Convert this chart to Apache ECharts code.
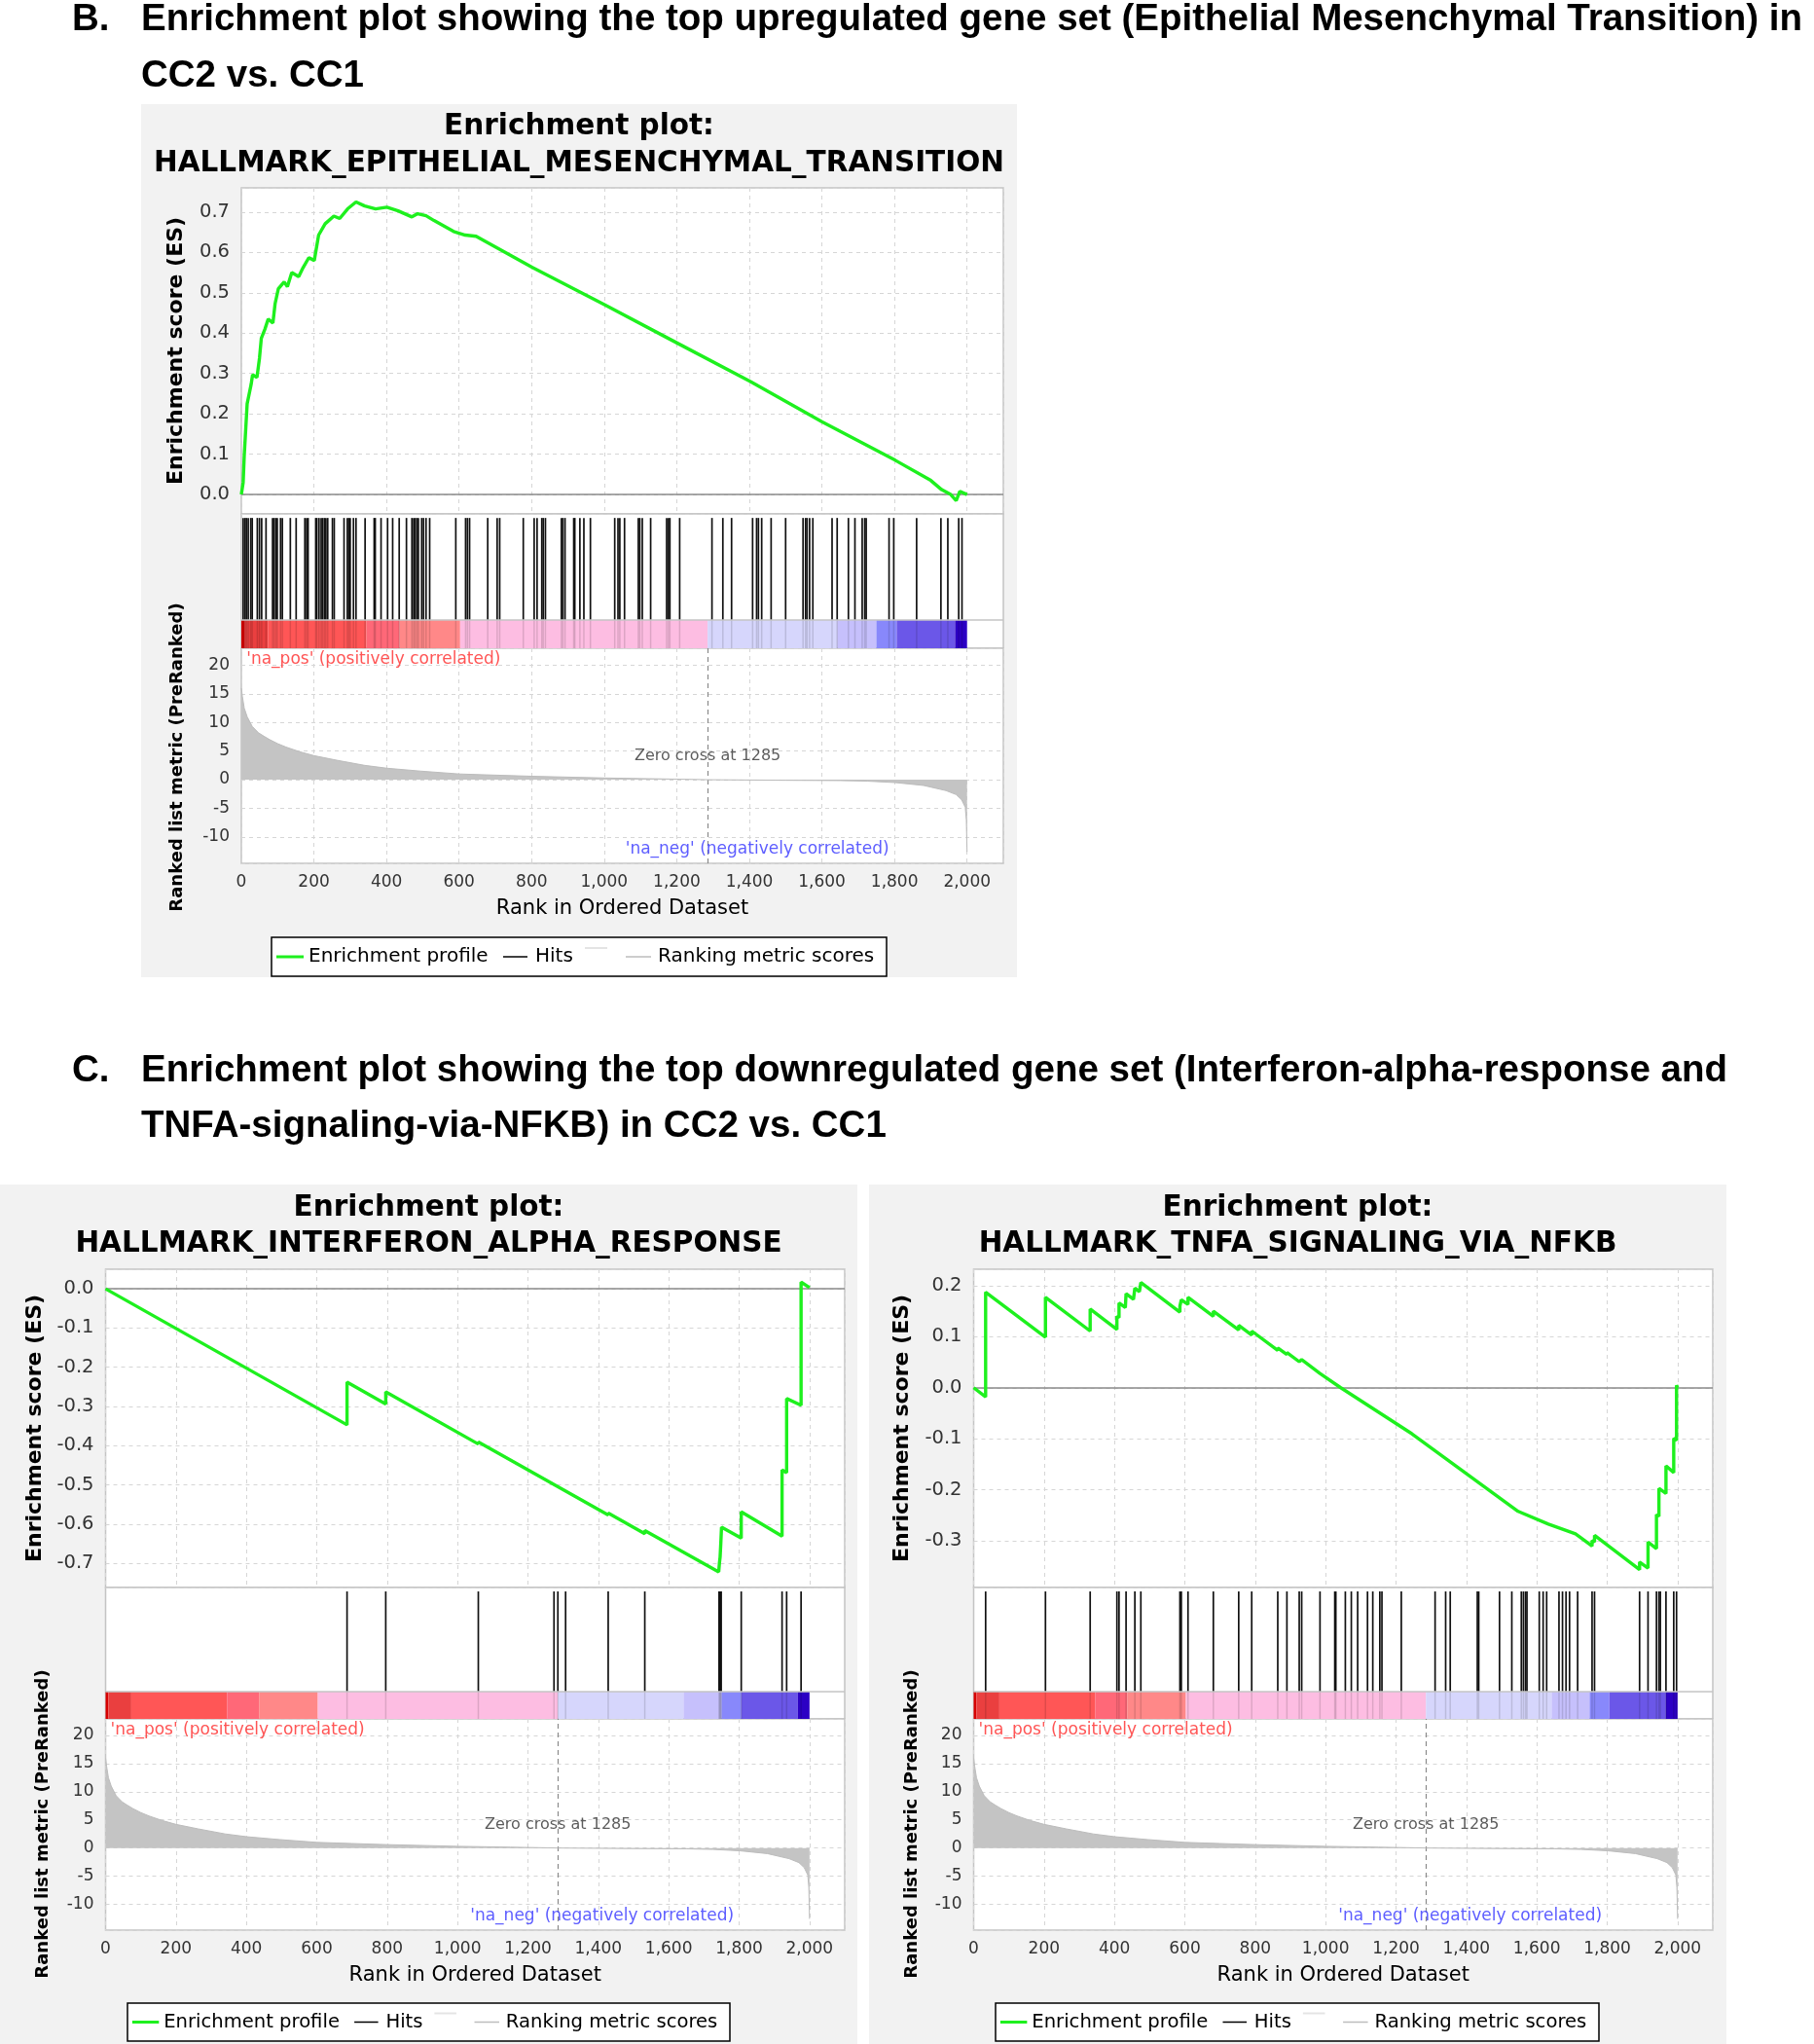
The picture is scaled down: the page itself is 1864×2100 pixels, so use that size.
<!DOCTYPE html>
<html>
<head>
<meta charset="utf-8">
<title>GSEA enrichment plots</title>
<script src="https://cdn.jsdelivr.net/npm/echarts@6/dist/echarts.min.js"></script>
<style>
  html, body { margin: 0; padding: 0; background: #fff; }
  #chart { width: 1864px; height: 2100px; }
</style>
</head>
<body>
<div id="chart"></div>
<script>
// ---- data ----
// ranked list metric (same ranked list in all three plots): [rank, metric]
const metricPoints = [
  [0, 16.0], [3, 14.5], [8, 12.5], [16, 11.0], [30, 9.3], [47, 8.2], [62, 7.6], [78, 7.0],
  [100, 6.3], [123, 5.7], [160, 4.9], [200, 4.2], [263, 3.4], [340, 2.5], [402, 2.0],
  [494, 1.5], [601, 1.0], [700, 0.8], [802, 0.6], [1002, 0.3], [1150, 0.15], [1285, 0],
  [1500, -0.1], [1650, -0.15], [1725, -0.25], [1802, -0.5], [1880, -1.0], [1942, -1.9],
  [1970, -2.6], [1985, -3.5], [1995, -4.8], [1998, -7.0], [2000, -12.6]
]
const zeroCross = 1285

// colour band edges along the ranks
const bandEdges = [0, 8, 73, 345, 436, 603, 1285, 1642, 1750, 1806, 1967, 2000]

// B: epithelial mesenchymal transition
const emtEs = [
  [0, 0], [5, 0.03], [8, 0.097], [16, 0.225], [27, 0.273], [31, 0.297], [43, 0.29], [50, 0.338],
  [55, 0.387], [65, 0.41], [74, 0.435], [87, 0.425], [93, 0.473], [102, 0.51], [118, 0.527],
  [127, 0.515], [139, 0.55], [158, 0.54], [170, 0.562], [186, 0.587], [201, 0.58], [213, 0.643],
  [231, 0.671], [255, 0.69], [271, 0.684], [293, 0.708], [316, 0.725], [340, 0.715], [370, 0.708],
  [401, 0.712], [432, 0.703], [470, 0.688], [486, 0.696], [509, 0.691], [531, 0.679], [585, 0.652],
  [617, 0.643], [647, 0.64], [802, 0.563], [1002, 0.47], [1202, 0.375], [1403, 0.28], [1601, 0.18],
  [1802, 0.085], [1900, 0.035], [1930, 0.012], [1955, 0.0], [1970, -0.015], [1980, 0.008], [2000, 0.0]
]
const emtHits = [
  5, 10, 14, 19, 26, 30, 44, 50, 56, 68, 86, 90, 95, 99, 108, 113, 135, 151, 175, 180, 184,
  205, 208, 214, 220, 224, 229, 233, 238, 251, 256, 283, 292, 296, 300, 309, 316, 341, 366, 369,
  385, 403, 417, 435, 455, 470, 475, 479, 484, 488, 497, 502, 509, 519, 591, 618, 623, 629, 679,
  705, 712, 777, 807, 815, 828, 832, 838, 882, 886, 892, 916, 919, 933, 944, 962, 1029, 1038,
  1043, 1056, 1094, 1098, 1105, 1128, 1172, 1177, 1181, 1208, 1297, 1327, 1351, 1409, 1420,
  1425, 1434, 1460, 1500, 1548, 1555, 1559, 1566, 1575, 1628, 1642, 1673, 1691, 1711, 1718,
  1722, 1785, 1798, 1861, 1928, 1947, 1977, 1986
]

// C left: interferon alpha response
const ifnEs = [
  [0, 0], [686, -0.347], [686, -0.238], [796, -0.294], [796, -0.263], [1059, -0.396], [1059, -0.391],
  [1428, -0.577], [1428, -0.572], [1532, -0.625], [1532, -0.617], [1742, -0.722], [1744, -0.70],
  [1746, -0.684], [1748, -0.648], [1750, -0.608], [1806, -0.636], [1806, -0.569], [1922, -0.631],
  [1922, -0.462], [1935, -0.469], [1935, -0.28], [1976, -0.297], [1976, 0.017], [2000, 0.003]
]
const ifnHits = [686, 796, 1059, 1274, 1285, 1307, 1428, 1532, 1743, 1745, 1747, 1749, 1806, 1922, 1935, 1976]

// C right: TNFA signalling via NFKB
const tnfaEs = [
  [0, 0], [34, -0.018], [34, 0.187], [204, 0.099], [204, 0.177], [331, 0.111], [331, 0.154],
  [407, 0.114], [407, 0.14], [413, 0.137], [413, 0.166], [431, 0.157], [433, 0.184], [454, 0.173],
  [458, 0.195], [471, 0.188], [475, 0.206], [586, 0.148], [586, 0.16], [590, 0.158], [590, 0.172],
  [609, 0.163], [609, 0.177], [681, 0.14], [681, 0.15], [753, 0.113], [753, 0.122], [790, 0.103],
  [790, 0.111], [864, 0.073], [864, 0.078], [890, 0.065], [890, 0.069], [925, 0.051], [932, 0.055],
  [984, 0.028], [1043, 0.0], [1245, -0.09], [1547, -0.242], [1633, -0.267], [1710, -0.286],
  [1757, -0.31], [1757, -0.299], [1764, -0.302], [1764, -0.289], [1892, -0.356], [1892, -0.341],
  [1916, -0.353], [1916, -0.302], [1940, -0.315], [1940, -0.248], [1947, -0.252], [1947, -0.197],
  [1967, -0.207], [1967, -0.153], [1989, -0.166], [1989, -0.099], [1997, -0.103], [1997, 0.005],
  [2000, 0.0]
]
const tnfaHits = [
  34, 204, 331, 407, 413, 433, 458, 475, 586, 590, 609, 681, 753, 790, 864, 890, 925, 932, 984,
  1026, 1029, 1056, 1073, 1091, 1119, 1134, 1154, 1160, 1215, 1311, 1341, 1354, 1431, 1435, 1494,
  1529, 1556, 1562, 1568, 1572, 1607, 1618, 1628, 1663, 1673, 1683, 1693, 1716, 1757, 1764, 1892,
  1916, 1940, 1947, 1951, 1967, 1989, 1997
]

// ---- styles ----
const green = '#1ef01e'
const bandColors = ['#d60000', '#ea3f3f', '#ff5656', '#ff6878', '#ff8888', '#fdbde2',
  '#d6d6fc', '#c6c0fc', '#8888fb', '#6b57e8', '#2c00c4']
const gridColor = '#d6d6d6'
const tickColor = '#333'
const fontPlot = '"DejaVu Sans", Verdana, sans-serif'
const fontHead = '"Liberation Sans", Arial, sans-serif'
const headSize = 38.5
const xMax = 2100
const metricRange = [-14.6, 22.95]

const panels = [
  {
    name: 'HALLMARK_EPITHELIAL_MESENCHYMAL_TRANSITION', es: emtEs, hits: emtHits,
    bg: [145, 107, 900, 897], left: 248, right: 1031, esTop: 193, esBottom: 528,
    metricTop: 666, metricBottom: 887, barTop: 0.21, esRange: [-0.048, 0.76],
    titleY: [130, 168], esTitleX: 181, rankTitleX: 182, legend: [279, 963, 632, 40]
  },
  {
    name: 'HALLMARK_INTERFERON_ALPHA_RESPONSE', es: ifnEs, hits: ifnHits,
    bg: [0, 1217, 881, 883], left: 108.5, right: 868, esTop: 1304, esBottom: 1631,
    metricTop: 1766, metricBottom: 1983, barTop: 0.207, esRange: [-0.762, 0.05],
    titleY: [1241, 1278], esTitleX: 36, rankTitleX: 44, legend: [131, 2058, 619, 39]
  },
  {
    name: 'HALLMARK_TNFA_SIGNALING_VIA_NFKB', es: tnfaEs, hits: tnfaHits,
    bg: [893, 1217, 881, 883], left: 1000.5, right: 1760, esTop: 1304, esBottom: 1631,
    metricTop: 1766, metricBottom: 1983, barTop: 0.207, esRange: [-0.391, 0.232],
    titleY: [1241, 1278], esTitleX: 927, rankTitleX: 937, legend: [1023, 2058, 620, 39]
  }
]

// ---- helpers ----
function txt (x, y, text, size, opts) {
  opts = opts || {}
  return {
    type: 'text', x: x, y: y, rotation: opts.rotation || 0, z: 50,
    style: {
      text: text, fontSize: size, fontFamily: opts.family || fontPlot,
      fontWeight: opts.weight || 'normal', fill: opts.color || '#000',
      align: opts.align || 'center', verticalAlign: 'middle'
    }
  }
}
function seg (x1, y1, x2, y2, color, w) {
  return { type: 'line', z: 50, shape: { x1: x1, y1: y1, x2: x2, y2: y2 }, style: { stroke: color, lineWidth: w } }
}
function rankLabel (v) {
  if (v % 200 !== 0 || v > 2000) return ''
  return v >= 1000 ? Math.floor(v / 1000) + ',' + String(v % 1000).padStart(3, '0') : String(v)
}
function esLabel (v) {
  if (Math.abs(v * 10 - Math.round(v * 10)) > 1e-6) return ''
  return Math.abs(v) < 1e-9 ? '0.0' : v.toFixed(1)
}
function metricLabel (v) {
  if (Math.abs(v / 5 - Math.round(v / 5)) > 1e-6) return ''
  return String(Math.round(v))
}
function head (x, y, text) {
  return txt(x, y, text, headSize, { family: fontHead, weight: 'bold', align: 'left' })
}

const dashed = { show: true, lineStyle: { color: gridColor, type: [4, 4], width: 1 } }
const labelBase = { color: tickColor, fontSize: 17, fontFamily: fontPlot }

const option = {
  animation: false,
  backgroundColor: '#fff',
  grid: [], xAxis: [], yAxis: [], series: [],
  graphic: { elements: [] }
}
const gfx = option.graphic.elements

// header texts
gfx.push(
  head(74, 20, 'B.'),
  head(145, 20, 'Enrichment plot showing the top upregulated gene set (Epithelial Mesenchymal Transition) in'),
  head(145, 78, 'CC2 vs. CC1'),
  head(74, 1100, 'C.'),
  head(145, 1100, 'Enrichment plot showing the top downregulated gene set (Interferon-alpha-response and'),
  head(145, 1157, 'TNFA-signaling-via-NFKB) in CC2 vs. CC1')
)

function addPanel (p) {
  const g0 = option.grid.length
  const W = p.right - p.left
  const gridBase = { show: true, backgroundColor: '#fff', borderColor: '#c4c4c4', borderWidth: 1.5, containLabel: false, outerBoundsMode: 'none' }
  option.grid.push(
    Object.assign({ left: p.left, top: p.esTop, width: W, height: p.esBottom - p.esTop }, gridBase),
    Object.assign({ left: p.left, top: p.esBottom, width: W, height: p.metricTop - p.esBottom }, gridBase),
    Object.assign({ left: p.left, top: p.metricTop, width: W, height: p.metricBottom - p.metricTop }, gridBase)
  )
  const xBase = {
    type: 'value', min: 0, max: xMax, minInterval: 200, maxInterval: 200,
    axisLine: { show: false }, axisTick: { show: false }
  }
  option.xAxis.push(
    Object.assign({ gridIndex: g0, axisLabel: { show: false }, splitLine: dashed }, xBase),
    Object.assign({ gridIndex: g0 + 1, axisLabel: { show: false }, splitLine: { show: false } }, xBase),
    Object.assign({
      gridIndex: g0 + 2, splitLine: dashed,
      axisLabel: Object.assign({ show: true, margin: 11, formatter: rankLabel }, labelBase)
    }, xBase)
  )
  option.yAxis.push(
    {
      type: 'value', gridIndex: g0, min: p.esRange[0], max: p.esRange[1],
      minInterval: 0.1, maxInterval: 0.1, splitNumber: 8,
      axisLine: { show: false }, axisTick: { show: false }, splitLine: dashed,
      axisLabel: Object.assign({}, labelBase, { show: true, margin: 12, fontSize: 19.5, formatter: esLabel })
    },
    { type: 'value', gridIndex: g0 + 1, min: 0, max: 1, show: false, splitLine: { show: false } },
    {
      type: 'value', gridIndex: g0 + 2, min: metricRange[0], max: metricRange[1],
      minInterval: 5, maxInterval: 5, splitNumber: 7,
      axisLine: { show: false }, axisTick: { show: false }, splitLine: dashed,
      axisLabel: Object.assign({ show: true, margin: 12, formatter: metricLabel }, labelBase)
    }
  )

  const barTop = p.barTop
  const hitTop = 0.97
  option.series.push(
    // running enrichment score
    {
      type: 'line', xAxisIndex: g0, yAxisIndex: g0, data: p.es, symbol: 'none', showSymbol: false,
      silent: true, z: 10,
      lineStyle: { color: green, width: 3.4 }, itemStyle: { color: green },
      markLine: {
        silent: true, symbol: 'none', z: 3, label: { show: false },
        lineStyle: { color: '#8a8a8a', width: 1.5, type: 'solid' },
        data: [{ yAxis: 0 }]
      }
    },
    // colour band of the ranked list
    {
      type: 'custom', xAxisIndex: g0 + 1, yAxisIndex: g0 + 1, silent: true, z: 2,
      data: bandEdges.slice(0, -1).map(function (s, i) { return [s, bandEdges[i + 1], i] }),
      renderItem: function (params, api) {
        const a = api.coord([api.value(0), barTop])
        const b = api.coord([api.value(1), 0])
        return {
          type: 'rect',
          shape: { x: a[0], y: a[1], width: b[0] - a[0], height: b[1] - a[1] },
          style: { fill: bandColors[api.value(2)] }
        }
      },
      markLine: {
        silent: true, symbol: 'none', label: { show: false },
        lineStyle: { color: '#c4c4c4', width: 1.5, type: 'solid' },
        data: [{ yAxis: barTop }]
      }
    },
    // hits
    {
      type: 'custom', xAxisIndex: g0 + 1, yAxisIndex: g0 + 1, silent: true, z: 4,
      data: p.hits.map(function (r) { return [r, 0.5] }),
      renderItem: function (params, api) {
        const x = api.coord([api.value(0), 0])[0]
        const yTop = api.coord([0, hitTop])[1]
        const yBar = api.coord([0, barTop])[1]
        const yBot = api.coord([0, 0])[1]
        return {
          type: 'group',
          children: [
            { type: 'line', shape: { x1: x, y1: yTop, x2: x, y2: yBar }, style: { stroke: '#111', lineWidth: 1.7 } },
            { type: 'line', shape: { x1: x, y1: yBar, x2: x, y2: yBot }, style: { stroke: 'rgba(0,0,0,0.13)', lineWidth: 1.5 } }
          ]
        }
      }
    },
    // ranked list metric
    {
      type: 'line', xAxisIndex: g0 + 2, yAxisIndex: g0 + 2, data: metricPoints, symbol: 'none',
      showSymbol: false, silent: true, z: 5,
      lineStyle: { color: '#bcbcbc', width: 1 },
      areaStyle: { color: '#c4c4c4', opacity: 1 },
      markLine: {
        silent: true, symbol: 'none', label: { show: false },
        lineStyle: { color: '#8a8a8a', width: 1.2, type: [5, 4] },
        data: [{ xAxis: zeroCross }]
      }
    },
    // annotations inside the metric plot
    {
      type: 'scatter', xAxisIndex: g0 + 2, yAxisIndex: g0 + 2, symbolSize: 0, silent: true, z: 20,
      data: [
        { value: [zeroCross, 4.1], label: { show: true, position: 'inside', formatter: 'Zero cross at ' + zeroCross, color: '#333', fontSize: 16, fontFamily: fontPlot } },
        { value: [14, 21.0], label: { show: true, position: 'right', distance: 0, formatter: "'na_pos' (positively correlated)", color: '#ff2a2a', fontSize: 17, fontFamily: fontPlot } },
        { value: [1785, -12.1], label: { show: true, position: 'left', distance: 0, formatter: "'na_neg' (negatively correlated)", color: '#3535ff', fontSize: 17, fontFamily: fontPlot } }
      ]
    }
  )

  // panel background, titles, axis titles, legend
  const bx = p.bg[0], by = p.bg[1], bw = p.bg[2], bh = p.bg[3]
  const cx = bx + bw / 2
  gfx.push(
    { type: 'rect', z: -10, shape: { x: bx, y: by, width: bw, height: bh }, style: { fill: '#f2f2f2' } },
    txt(cx, p.titleY[0], 'Enrichment plot:', 29.5, { weight: 'bold' }),
    txt(cx, p.titleY[1], p.name, 29.5, { weight: 'bold' }),
    txt(p.esTitleX, (p.esTop + p.esBottom) / 2, 'Enrichment score (ES)', 22, { weight: 'bold', rotation: Math.PI / 2 }),
    txt(p.rankTitleX, p.metricBottom - 109, 'Ranked list metric (PreRanked)', 18, { weight: 'bold', rotation: Math.PI / 2 }),
    txt((p.left + p.right) / 2, p.metricBottom + 47, 'Rank in Ordered Dataset', 21)
  )
  const lx = p.legend[0], ly = p.legend[1], lw = p.legend[2], lh = p.legend[3]
  const k = lw / 632
  const fs = 20 * k
  const cy = ly + lh / 2
  gfx.push(
    { type: 'rect', z: 40, shape: { x: lx, y: ly, width: lw, height: lh }, style: { fill: '#fff', stroke: '#000', lineWidth: 1.5 } },
    seg(lx + 5 * k, cy, lx + 33 * k, cy, green, 3),
    txt(lx + 38 * k, cy, 'Enrichment profile', fs, { align: 'left' }),
    seg(lx + 238 * k, cy, lx + 263 * k, cy, '#000', 1.5),
    txt(lx + 271 * k, cy, 'Hits', fs, { align: 'left' }),
    seg(lx + 322 * k, cy - 9, lx + 345 * k, cy - 9, '#e4e4e4', 2),
    seg(lx + 364 * k, cy, lx + 390 * k, cy, '#bdbdbd', 1.5),
    txt(lx + 397 * k, cy, 'Ranking metric scores', fs, { align: 'left' })
  )
}

panels.forEach(addPanel)

const chart = echarts.init(document.getElementById('chart'), null, { renderer: 'canvas' })
chart.setOption(option)
</script>
</body>
</html>
